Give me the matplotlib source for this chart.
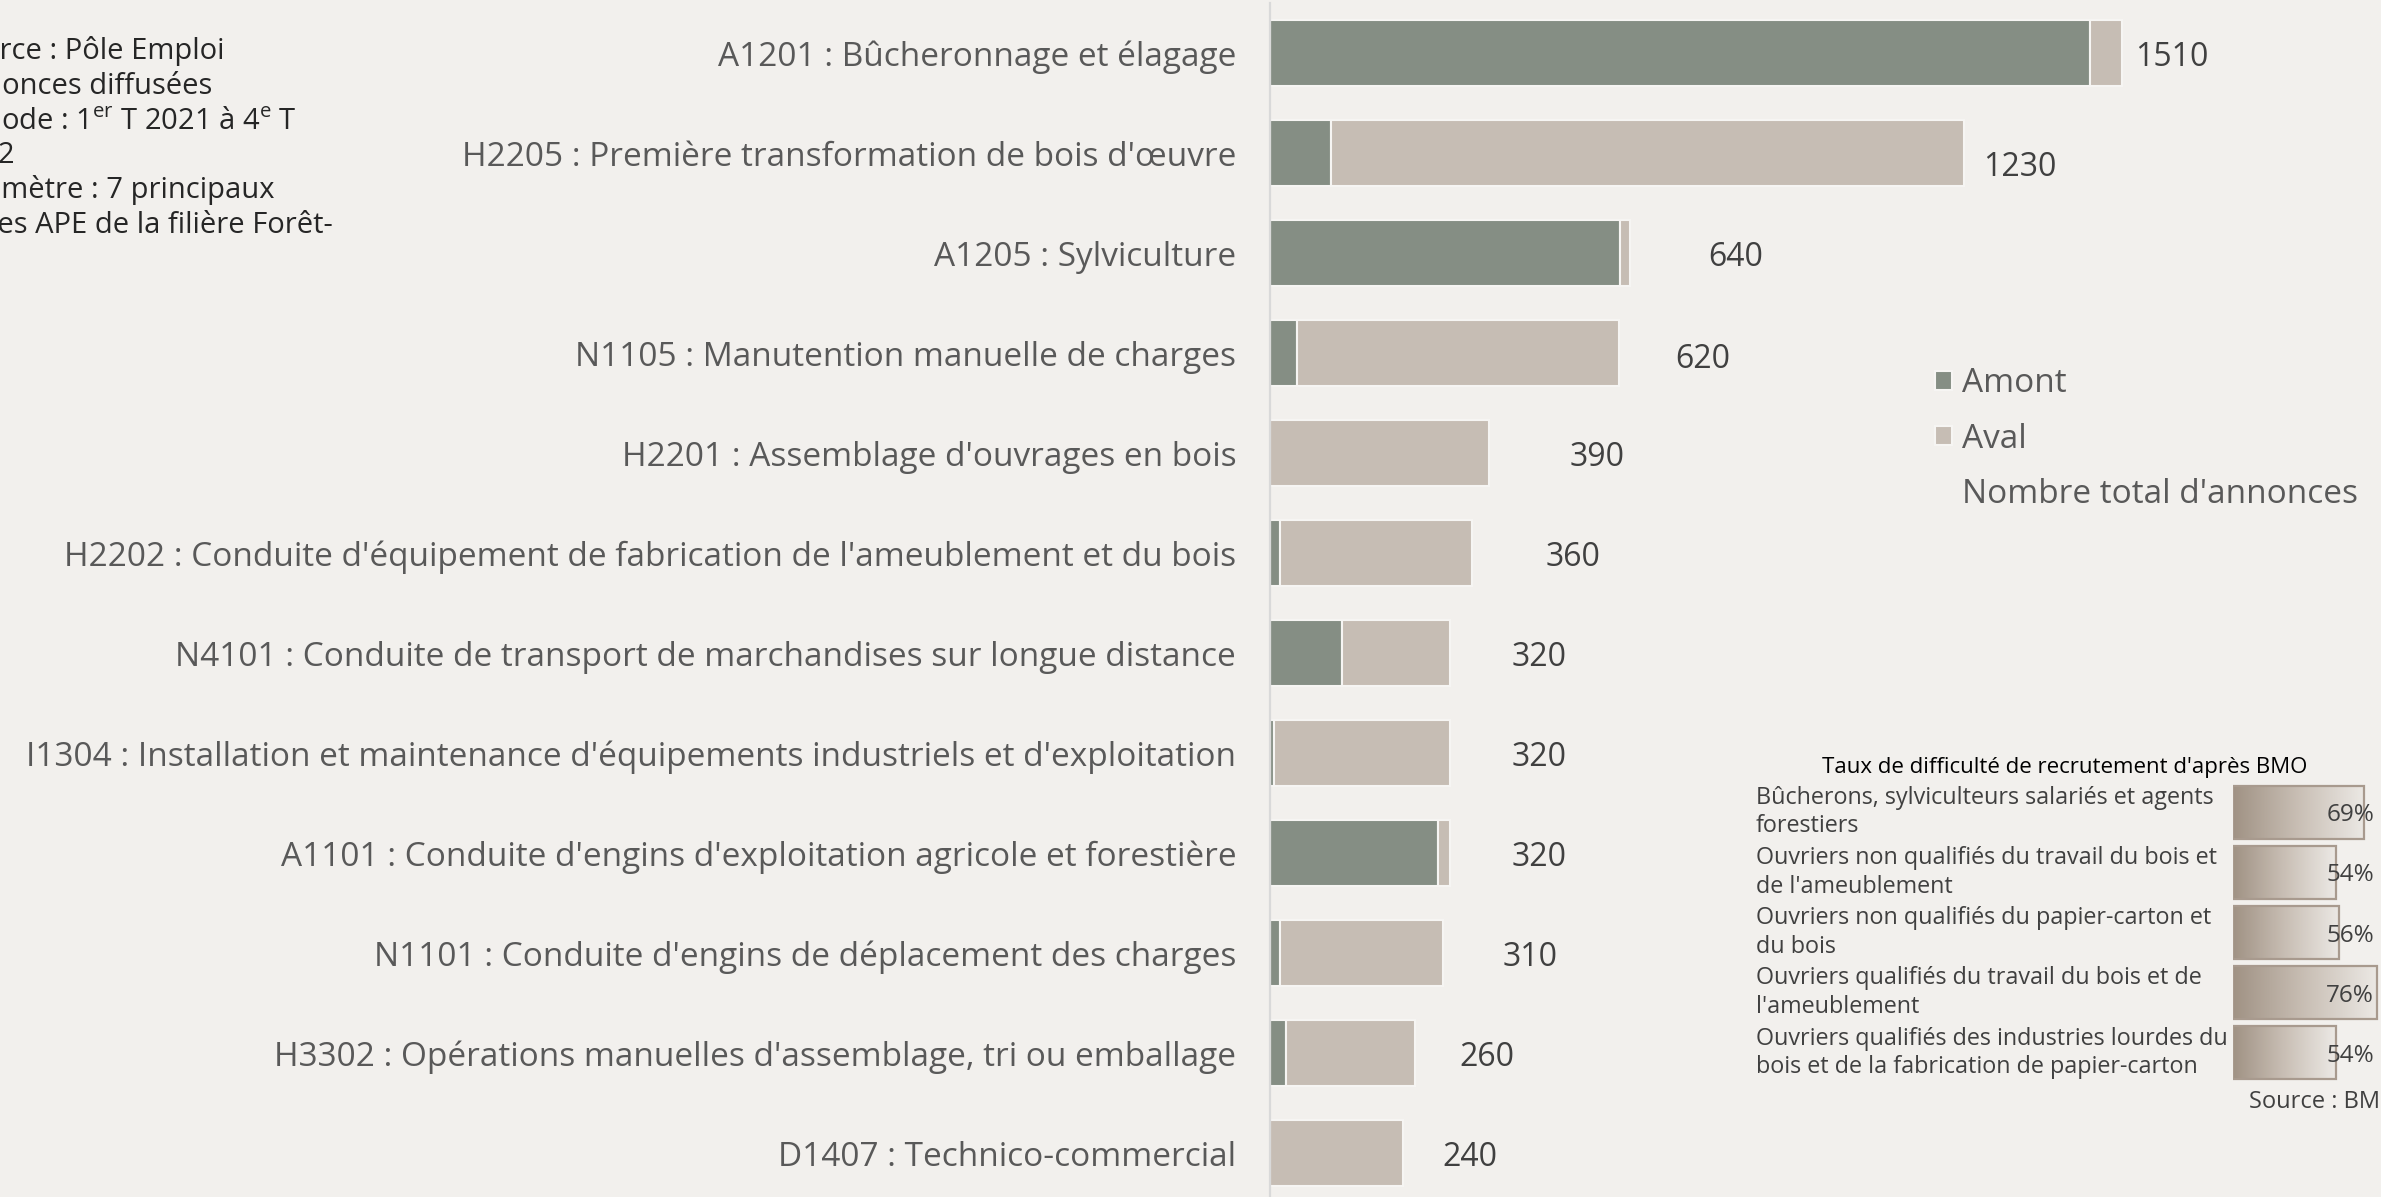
import matplotlib
matplotlib.use('Agg')

import numpy as np
import matplotlib.pyplot as plt
import matplotlib.transforms as mtransforms
from matplotlib.patches import Patch

plt.rcParams['font.family'] = ['Open Sans', 'DejaVu Sans']
plt.rcParams['mathtext.fontset'] = 'custom'
plt.rcParams['mathtext.rm'] = 'Open Sans'

# --- data ---------------------------------------------------------------
metiers = ["A1201 : Bûcheronnage et élagage",
           "H2205 : Première transformation de bois d'œuvre",
           "A1205 : Sylviculture",
           "N1105 : Manutention manuelle de charges",
           "H2201 : Assemblage d'ouvrages en bois",
           "H2202 : Conduite d'équipement de fabrication de l'ameublement et du bois",
           "N4101 : Conduite de transport de marchandises sur longue distance",
           "I1304 : Installation et maintenance d'équipements industriels et d'exploitation",
           "A1101 : Conduite d'engins d'exploitation agricole et forestière",
           "N1101 : Conduite d'engins de déplacement des charges",
           "H3302 : Opérations manuelles d'assemblage, tri ou emballage",
           "D1407 : Technico-commercial"]
amont = [1452, 109, 620, 48, 0, 18, 128, 8, 299, 19, 29, 0]
aval = [58, 1121, 19, 571, 389, 341, 191, 311, 20, 289, 228, 237]

bmo_labels = ["Bûcherons, sylviculteurs salariés et agents\nforestiers",
              "Ouvriers non qualifiés du travail du bois et\nde l'ameublement",
              "Ouvriers non qualifiés du papier-carton et\ndu bois",
              "Ouvriers qualifiés du travail du bois et de\nl'ameublement",
              "Ouvriers qualifiés des industries lourdes du\nbois et de la fabrication de papier-carton"]
bmo_rate = [69, 54, 56, 76, 54]

notes = ["Source : Pôle Emploi",
         "Annonces diffusées",
         r"Période : 1$^{\mathrm{er}}$ T 2021 à 4$^{\mathrm{e}}$ T",
         "2022",
         "Périmètre : 7 principaux",
         "codes APE de la filière Forêt-"]

# pixel offsets of the total labels from the bar end (layout only)
label_gap = [13, 19, 78, 56, 80, 73, 62, 62, 62, 59, 45, 39]
label_dy = [0, -10, 0, -2, 0, 0, 0, 0, 0, 0, 0, 0]

BG = '#f2f0ed'
C_AMONT = '#858e84'
C_AVAL = '#c6bdb4'
W, H = 2381, 1197

fig = plt.figure(figsize=(W / 100, H / 100), dpi=100, facecolor=BG)

# --- main stacked bars --------------------------------------------------
ax = fig.add_axes([1269.5 / W, -6 / H, 1 - 1269.5 / W, 1200 / H])
ax.set_facecolor(BG)
y = np.arange(len(metiers))
b1 = ax.barh(y, amont, height=0.66, color=C_AMONT, edgecolor='#f6f5f3', linewidth=1.5, label='Amont')
b2 = ax.barh(y, aval, left=amont, height=0.66, color=C_AVAL, edgecolor='#f6f5f3', linewidth=1.5, label='Aval')
ax.set_xlim(0, 1968)
ax.set_ylim(len(metiers) - 0.5, -0.5)

tot = np.array(amont) + np.array(aval)
for i, t in enumerate(tot):
    ax.annotate(str(int(round(t, -1))), (t, i), xytext=(label_gap[i], label_dy[i]),
                textcoords='offset pixels', ha='left', va='center_baseline', fontsize=23,
                color='#404040')

ax.set_yticks(y)
ax.set_yticklabels(metiers, fontsize=24, color='#595959')
ax.tick_params(axis='y', length=0, pad=24)
ax.set_xticks([])
for s in ['top', 'right', 'bottom']:
    ax.spines[s].set_visible(False)
ax.spines['left'].set_color('#d9d9d9')
ax.spines['left'].set_linewidth(1.6)

blank = Patch(facecolor='none', edgecolor='none')
leg = fig.legend(handles=[b1, b2, blank], labels=['Amont', 'Aval', "Nombre total d'annonces"],
                 loc='upper left', bbox_to_anchor=(1935 / W, 1 - 367 / H), frameon=False,
                 fontsize=24, handlelength=0.5, handleheight=0.5, handletextpad=0.3,
                 labelspacing=0.68, borderpad=0, borderaxespad=0)
for t in leg.get_texts():
    t.set_color('#595959')

# --- notes (left, partly cut) -------------------------------------------
r = fig.canvas.get_renderer()
tmp = fig.text(0, 0, "Sou", fontsize=21)
cut = tmp.get_window_extent(r).width
tmp.remove()
for i, line in enumerate(notes):
    fig.text(-cut / W, 1 - (59 + 34.8 * i) / H, line, fontsize=21, color='#262626',
             ha='left', va='baseline')

# --- BMO inset ----------------------------------------------------------
ax2 = fig.add_axes([2233 / W, 1 - 1083 / H, 148 / W, 301 / H])
ax2.set_facecolor(BG)
ax2.axis('off')
grad = np.linspace(0, 1, 256).reshape(1, -1)
cmap = matplotlib.colors.LinearSegmentedColormap.from_list('bmo', ['#a09284', '#c9bfb5', '#ece9e5'])
pix = mtransforms.blended_transform_factory(mtransforms.IdentityTransform(), ax2.transData)
for i, v in enumerate(bmo_rate):
    ax2.imshow(grad, cmap=cmap, aspect='auto', extent=(0, v, i + 0.44, i - 0.44), zorder=1)
    ax2.barh(i, v, height=0.88, facecolor='none', edgecolor='#a89a8e', linewidth=1.6, zorder=2)
    ax2.text(2374, i, '%d%%' % v, transform=pix, ha='right', va='center_baseline',
             fontsize=17.5, color='#404040', zorder=3)
ax2.set_xlim(0, 148 / 1.9)
ax2.set_ylim(len(bmo_rate) - 0.5, -0.5)

tr = mtransforms.blended_transform_factory(fig.transFigure, ax2.transData)
for i, lab in enumerate(bmo_labels):
    fig.text(1756 / W, i, lab, transform=tr, ha='left', va='center', fontsize=16.8,
             color='#404040', linespacing=1.25)

fig.text(2065 / W, 1 - 767 / H, "Taux de difficulté de recrutement d'après BMO", ha='center',
         va='center', fontsize=16, color='black')
fig.text(2249 / W, 1 - 1102 / H, "Source : BMO", ha='left', va='center', fontsize=17,
         color='#404040')

fig.savefig('out.png', dpi=100, facecolor=BG)
